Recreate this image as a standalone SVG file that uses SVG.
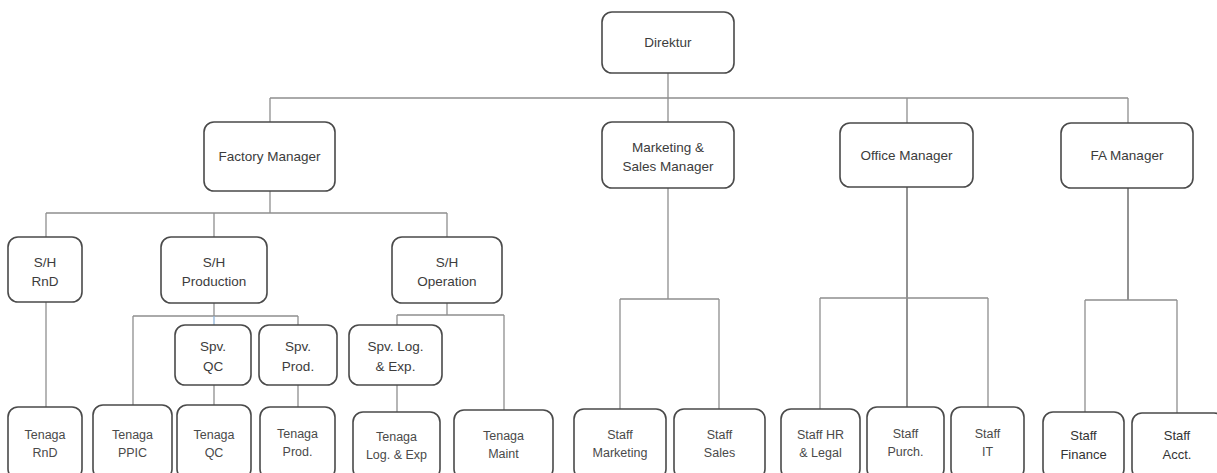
<svg xmlns="http://www.w3.org/2000/svg" width="1217" height="473" viewBox="0 0 1217 473">
<style>
.box{fill:#fff;stroke:#4a4a4a;stroke-width:1.6}
.c{fill:none;stroke:#8f8f8f;stroke-width:1.3}
.cd{fill:none;stroke:#6e6e6e;stroke-width:1.5}
.cb{fill:none;stroke:#8fb3d9;stroke-width:1.3}
text{font-family:"Liberation Sans",Arial,sans-serif;fill:#3c3c3c;text-anchor:middle}
.t1{font-size:13.5px}
.t2{font-size:12.5px;fill:#4a4a4a}
.t3{font-size:13px;fill:#333}
</style>
<rect width="1217" height="473" fill="#fff"/>
<g id="connectors">
<path class="c" d="M668 73V122M270 98H1128M270 98V122M907 98V123M1128 98V123"/>
<path class="c" d="M270 191V213M46 213H447M46 213V237M214 213V237M447 213V237"/>
<path class="c" d="M46 302V407"/>
<path class="c" d="M214 303V316M133 316H298M133 316V405M298 316V325"/>
<path class="cb" d="M214 316V325"/>
<path class="c" d="M214 385V405M298 385V407"/>
<path class="c" d="M447 303V315M397 315H504M397 315V325M504 315V410M397 385V412"/>
<path class="c" d="M668 188V299M620 299H719M620 299V409M719 299V409"/>
<path class="cd" d="M907 187V407"/>
<path class="c" d="M820 298H988M820 298V409M988 298V407"/>
<path class="cd" d="M1128 188V300"/>
<path class="c" d="M1085 300H1177M1085 300V412M1177 300V413"/>
</g>
<g id="direktur"><rect class="box" x="602" y="12" width="132" height="61" rx="10"/><text class="t1" x="668" y="47">Direktur</text></g>
<g id="factory-manager"><rect class="box" x="204" y="122" width="131" height="69" rx="10"/><text class="t1" x="269.5" y="161">Factory Manager</text></g>
<g id="marketing-sales-manager"><rect class="box" x="602" y="122" width="132" height="66" rx="10"/><text class="t1" x="668" y="152">Marketing &amp;</text><text class="t1" x="668" y="171">Sales Manager</text></g>
<g id="office-manager"><rect class="box" x="840" y="123" width="133" height="64" rx="10"/><text class="t1" x="906.5" y="160">Office Manager</text></g>
<g id="fa-manager"><rect class="box" x="1061" y="123" width="132" height="65" rx="10"/><text class="t1" x="1127" y="160">FA Manager</text></g>
<g id="sh-rnd"><rect class="box" x="8" y="237" width="74" height="65" rx="10"/><text class="t1" x="45" y="267">S/H</text><text class="t1" x="45" y="286">RnD</text></g>
<g id="sh-production"><rect class="box" x="161" y="237" width="106" height="66" rx="10"/><text class="t1" x="214" y="267">S/H</text><text class="t1" x="214" y="286">Production</text></g>
<g id="sh-operation"><rect class="box" x="392" y="237" width="110" height="66" rx="10"/><text class="t1" x="447" y="267">S/H</text><text class="t1" x="447" y="286">Operation</text></g>
<g id="spv-qc"><rect class="box" x="175" y="325" width="76" height="60" rx="10"/><text class="t1" x="213" y="351">Spv.</text><text class="t1" x="213" y="371">QC</text></g>
<g id="spv-prod"><rect class="box" x="259" y="325" width="78" height="60" rx="10"/><text class="t1" x="298" y="351">Spv.</text><text class="t1" x="298" y="371">Prod.</text></g>
<g id="spv-log-exp"><rect class="box" x="349" y="325" width="93" height="60" rx="10"/><text class="t1" x="395.5" y="351">Spv. Log.</text><text class="t1" x="395.5" y="371">&amp; Exp.</text></g>
<g id="tenaga-rnd"><rect class="box" x="8" y="407" width="74" height="72" rx="10"/><text class="t2" x="45" y="439">Tenaga</text><text class="t2" x="45" y="457">RnD</text></g>
<g id="tenaga-ppic"><rect class="box" x="93" y="405" width="79" height="74" rx="10"/><text class="t2" x="132.5" y="439">Tenaga</text><text class="t2" x="132.5" y="457">PPIC</text></g>
<g id="tenaga-qc"><rect class="box" x="177" y="405" width="74" height="74" rx="10"/><text class="t2" x="214" y="439">Tenaga</text><text class="t2" x="214" y="457">QC</text></g>
<g id="tenaga-prod"><rect class="box" x="260" y="407" width="75" height="72" rx="10"/><text class="t2" x="297.5" y="438">Tenaga</text><text class="t2" x="297.5" y="456">Prod.</text></g>
<g id="tenaga-log-exp"><rect class="box" x="353" y="412" width="87" height="67" rx="10"/><text class="t2" x="396.5" y="441">Tenaga</text><text class="t2" x="396.5" y="459">Log. &amp; Exp</text></g>
<g id="tenaga-maint"><rect class="box" x="454" y="410" width="99" height="69" rx="10"/><text class="t2" x="503.5" y="440">Tenaga</text><text class="t2" x="503.5" y="458">Maint</text></g>
<g id="staff-marketing"><rect class="box" x="574" y="409" width="92" height="70" rx="10"/><text class="t2" x="620" y="439">Staff</text><text class="t2" x="620" y="457">Marketing</text></g>
<g id="staff-sales"><rect class="box" x="674" y="409" width="91" height="70" rx="10"/><text class="t2" x="719.5" y="439">Staff</text><text class="t2" x="719.5" y="457">Sales</text></g>
<g id="staff-hr-legal"><rect class="box" x="781" y="409" width="79" height="70" rx="10"/><text class="t2" x="820.5" y="439">Staff HR</text><text class="t2" x="820.5" y="457">&amp; Legal</text></g>
<g id="staff-purch"><rect class="box" x="867" y="407" width="77" height="72" rx="10"/><text class="t2" x="905.5" y="438">Staff</text><text class="t2" x="905.5" y="456">Purch.</text></g>
<g id="staff-it"><rect class="box" x="951" y="407" width="73" height="72" rx="10"/><text class="t2" x="987.5" y="438">Staff</text><text class="t2" x="987.5" y="456">IT</text></g>
<g id="staff-finance"><rect class="box" x="1043" y="412" width="81" height="67" rx="10"/><text class="t3" x="1083.5" y="440">Staff</text><text class="t3" x="1083.5" y="459">Finance</text></g>
<g id="staff-acct"><rect class="box" x="1132" y="413" width="92" height="66" rx="10"/><text class="t3" x="1177" y="440">Staff</text><text class="t3" x="1177" y="459">Acct.</text></g>
</svg>
